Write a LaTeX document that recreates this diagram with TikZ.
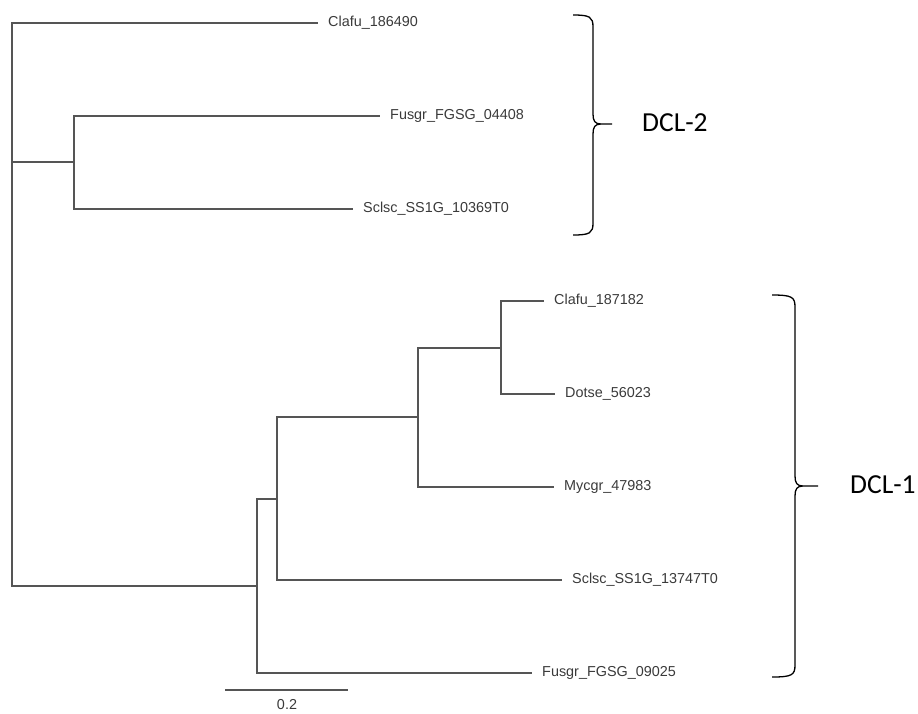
\documentclass[tikz,border=0pt]{standalone}
\usepackage{fontspec}
\setmainfont{Liberation Sans}
\newfontfamily\calib{Carlito}
\definecolor{treeline}{HTML}{555555}
\definecolor{treetext}{HTML}{3A3A3A}
\begin{document}
\begin{tikzpicture}[x=1pt,y=-1pt,
  branch/.style={draw=treeline,line width=1.3pt},
  leaf/.style={anchor=west,inner xsep=10pt,inner ysep=0pt,text=treetext,font=\fontsize{14.4}{17}\selectfont},
  bracepath/.style={draw=black,line width=1.3pt},
  grouplabel/.style={anchor=west,inner sep=0pt,font=\calib\fontsize{27.5}{32}\selectfont}]
\useasboundingbox (0,0) rectangle (918,713);
% internal nodes
\coordinate (r) at (12,162);
\coordinate (n2) at (74,162);
\coordinate (n3) at (257,586);
\coordinate (n4) at (277,499);
\coordinate (n5) at (418,417);
\coordinate (n6) at (501,348);
% leaves
\node[leaf] (l1) at (318,23) {Clafu\_186490};
\node[leaf] (l2) at (380,116) {Fusgr\_FGSG\_04408};
\node[leaf] (l3) at (353,209) {Sclsc\_SS1G\_10369T0};
\node[leaf] (l4) at (544,301) {Clafu\_187182};
\node[leaf] (l5) at (555,394) {Dotse\_56023};
\node[leaf] (l6) at (554,487) {Mycgr\_47983};
\node[leaf] (l7) at (562,580) {Sclsc\_SS1G\_13747T0};
\node[leaf] (l8) at (532,673) {Fusgr\_FGSG\_09025};
% branches
\draw[branch] (r) |- (l1.west);
\draw[branch] (r) -- (n2);
\draw[branch] (r) |- (n3);
\draw[branch] (n2) |- (l2.west);
\draw[branch] (n2) |- (l3.west);
\draw[branch] (n3) |- (n4);
\draw[branch] (n3) |- (l8.west);
\draw[branch] (n4) |- (n5);
\draw[branch] (n4) |- (l7.west);
\draw[branch] (n5) |- (n6);
\draw[branch] (n5) |- (l6.west);
\draw[branch] (n6) |- (l4.west);
\draw[branch] (n6) |- (l5.west);
% scale bar
\coordinate (sb1) at (225,690);
\coordinate (sb2) at (348,690);
\draw[branch] (sb1) -- (sb2);
\node[text=treetext,font=\fontsize{14.4}{17}\selectfont,inner sep=0pt] (sbl) at (287,705) {0.2};
% braces
\coordinate (b2t) at (573,15);
\coordinate (b2tip) at (612,124);
\coordinate (b2b) at (573,235);
\draw[bracepath] (b2t) .. controls (590,15) and (593,17) .. (593,27)
  -- (593,114) .. controls (593,121) and (595,124) .. (601,124) -- (b2tip)
  (601,124) .. controls (595,124) and (593,127) .. (593,134)
  -- (593,223) .. controls (593,233) and (590,235) .. (b2b);
\node[grouplabel] (dcl2) at (642,123) {DCL-2};
\coordinate (b1t) at (772,295);
\coordinate (b1tip) at (818,486);
\coordinate (b1b) at (772,677);
\draw[bracepath] (b1t) .. controls (792,295) and (795,297) .. (795,307)
  -- (795,476) .. controls (795,483) and (797,486) .. (803,486) -- (b1tip)
  (803,486) .. controls (797,486) and (795,489) .. (795,496)
  -- (795,665) .. controls (795,675) and (792,677) .. (b1b);
\node[grouplabel] (dcl1) at (850,485) {DCL-1};
\end{tikzpicture}
\end{document}
